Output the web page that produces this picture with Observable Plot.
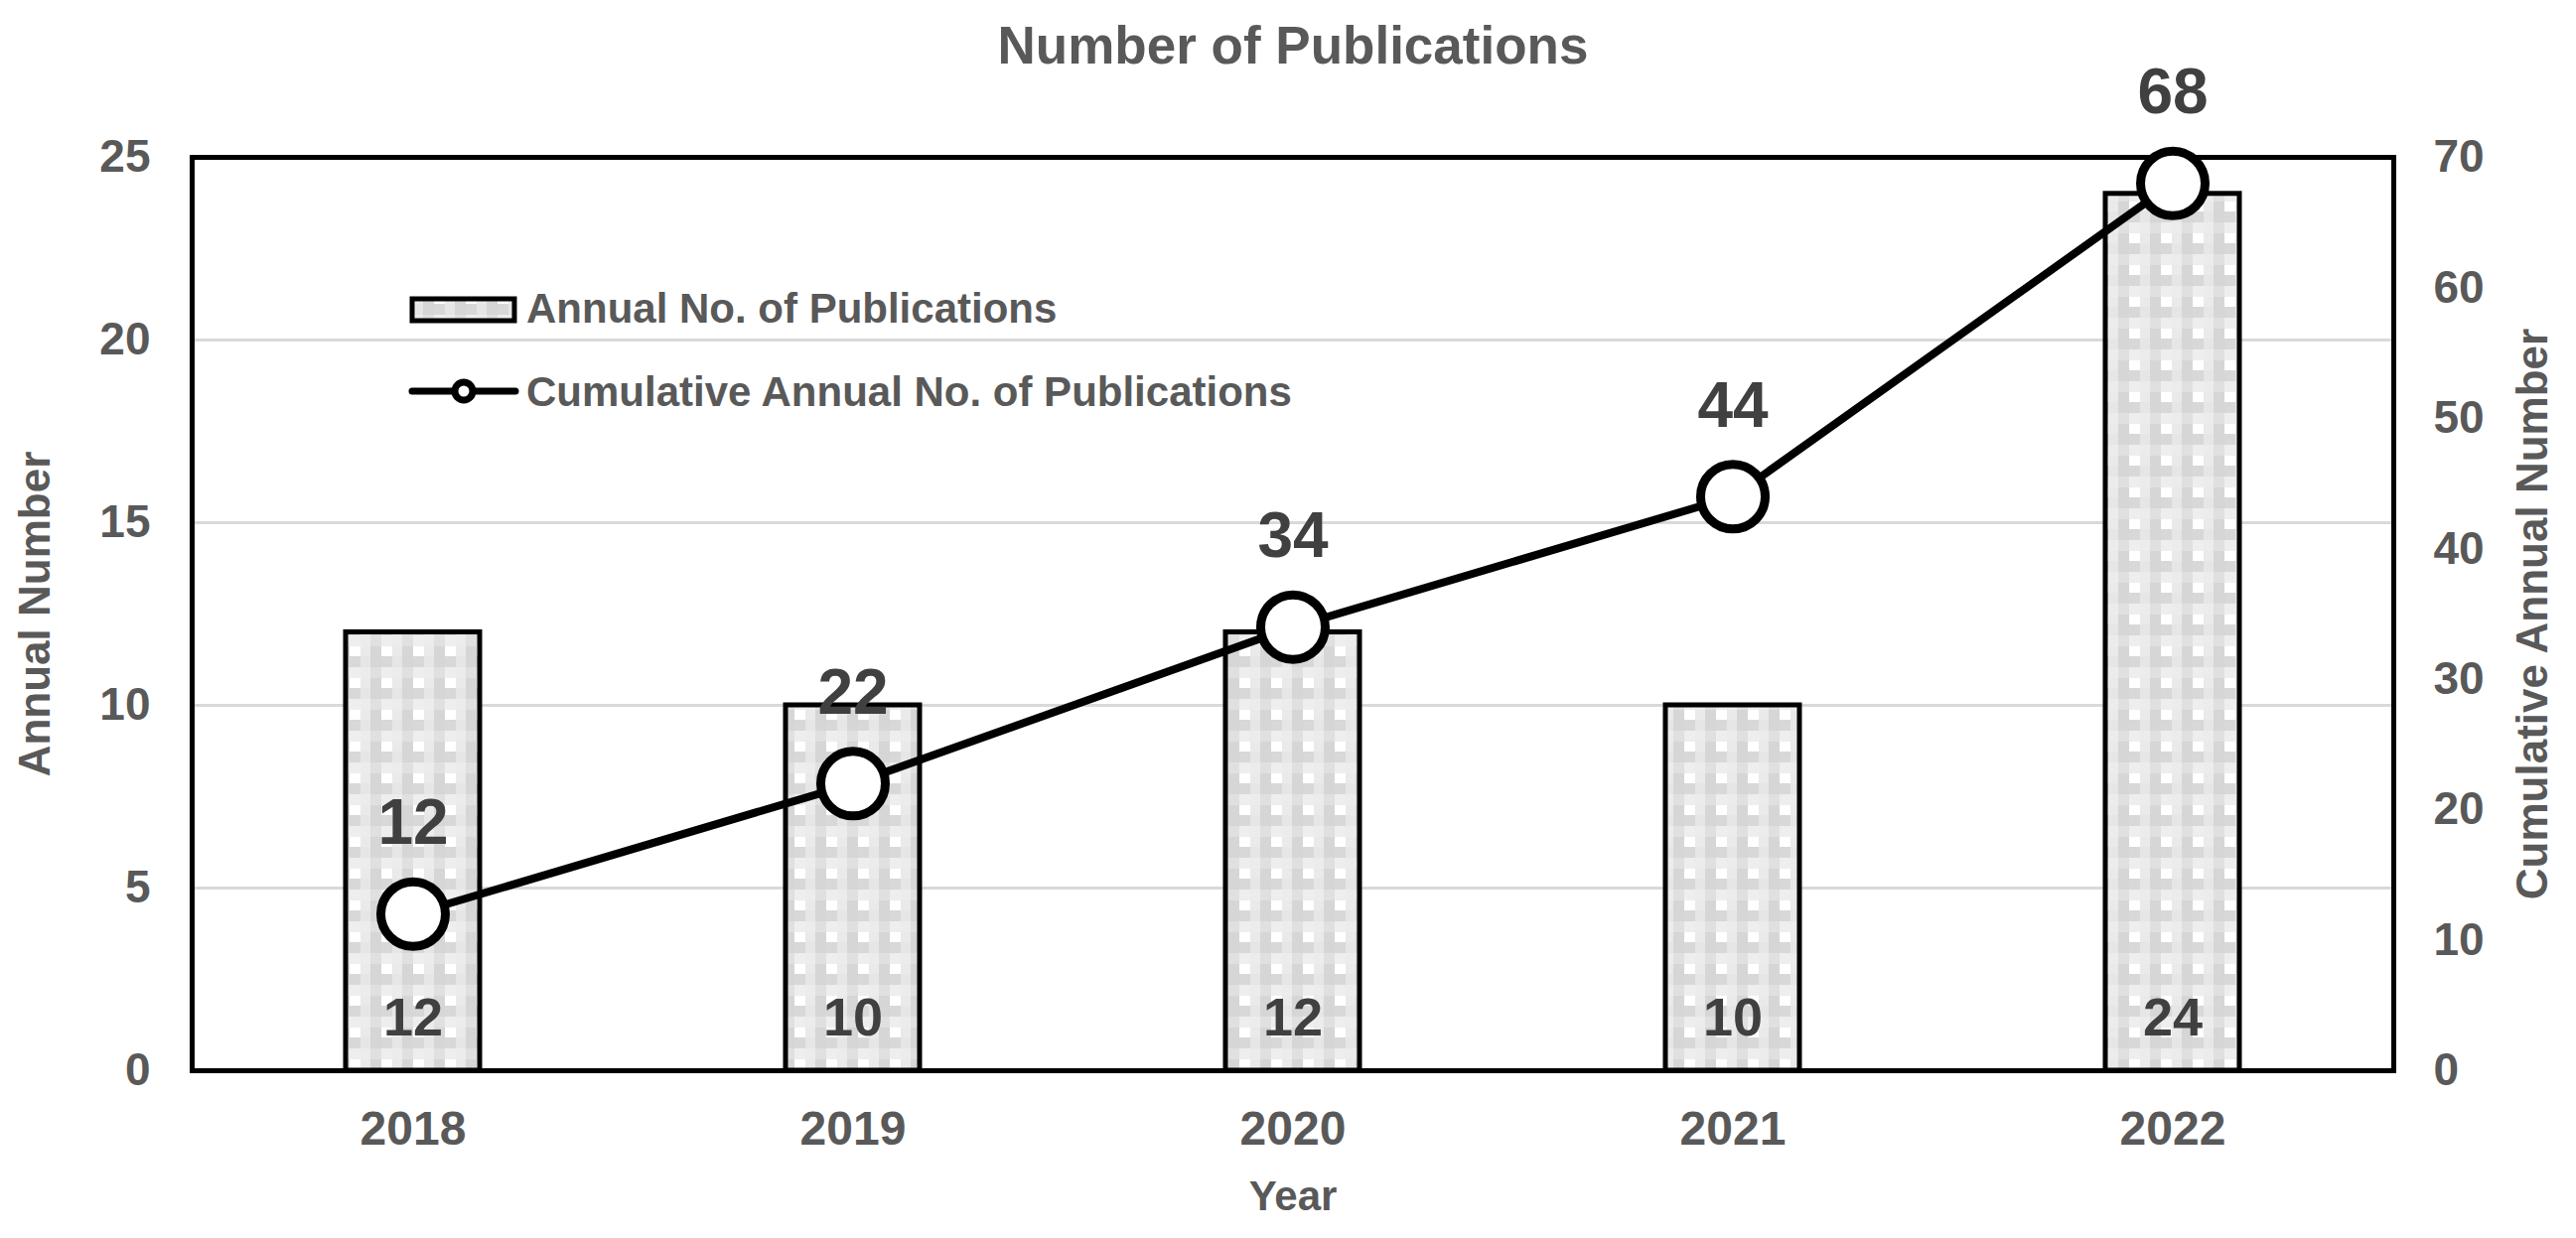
<!DOCTYPE html>
<html>
<head>
<meta charset="utf-8">
<script src="https://cdn.jsdelivr.net/npm/d3@7"></script>
<script src="https://cdn.jsdelivr.net/npm/@observablehq/plot@0.6"></script>
<style>
  html, body { margin: 0; padding: 0; background: #fff; }
  #wrap { position: relative; width: 2594px; height: 1247px; font-family: "Liberation Sans", Arial, sans-serif; overflow: hidden; }
  .leg-text { position: absolute; left: 530px; font-size: 42px; line-height: 42px; font-weight: bold; color: #595959; white-space: nowrap; }
  #legsw { position: absolute; left: 405px; top: 285px; }
</style>
</head>
<body>
<div id="wrap"></div>
<script>
// ---- data ----
const years = ["2018", "2019", "2020", "2021", "2022"];
const annual = [12, 10, 12, 10, 24];
const cumulative = [12, 22, 34, 44, 68];
const leftTicks = [0, 5, 10, 15, 20, 25];
const rightTicks = [0, 10, 20, 30, 40, 50, 60, 70];
const gridTicks = [5, 10, 15, 20];
const leftMax = 25, rightMax = 70;
const titleText = "Number of Publications";
const leftLabel = "Annual Number";
const rightLabel = "Cumulative Annual Number";
const xLabel = "Year";
const legendLabels = ["Annual No. of Publications", "Cumulative Annual No. of Publications"];

const data = years.map((y, i) => ({year: y, annual: annual[i], cum: cumulative[i]}));
const toLeft = v => v * leftMax / rightMax;

const textGray = "#595959";
const labelDark = "#404040";

const plot = Plot.plot({
  width: 2594,
  height: 1247,
  marginTop: 158,
  marginBottom: 169,
  marginLeft: 193,
  marginRight: 184,
  style: {fontFamily: '"Liberation Sans", Arial, sans-serif', fontSize: "46px", fontWeight: "bold", color: textGray, background: "white"},
  x: {type: "band", domain: years, paddingInner: 0.695, paddingOuter: 0.3475, align: 0.5},
  y: {domain: [0, leftMax]},
  marks: [
    Plot.gridY(gridTicks, {stroke: "#d9d9d9", strokeOpacity: 1, strokeWidth: 3}),
    Plot.barY(data, {x: "year", y: "annual", fill: "url(#checker)", stroke: "black", strokeWidth: 5}),
    Plot.frame({stroke: "black", strokeWidth: 5}),
    Plot.axisY(leftTicks, {anchor: "left", tickSize: 0, tickPadding: 42, label: null, fontSize: 46, fontWeight: "bold", fill: textGray}),
    Plot.axisY(rightTicks.map(toLeft), {anchor: "right", tickSize: 0, tickPadding: 40, label: null, tickFormat: d => String(Math.round(d * rightMax / leftMax)), fontSize: 46, fontWeight: "bold", fill: textGray}),
    Plot.axisX({tickSize: 0, tickPadding: 40, label: null, fontSize: 48, fontWeight: "bold", fill: textGray}),
    Plot.line(data, {x: "year", y: d => toLeft(d.cum), stroke: "black", strokeWidth: 8}),
    Plot.dot(data, {x: "year", y: d => toLeft(d.cum), r: 32.5, fill: "white", stroke: "black", strokeWidth: 9}),
    Plot.text(data, {x: "year", y: d => toLeft(d.cum), text: d => String(d.cum), dy: -91, fontSize: 64, fontWeight: "bold", fill: labelDark}),
    Plot.text(data, {x: "year", frameAnchor: "bottom", lineAnchor: "middle", text: d => String(d.annual), dy: -53, fontSize: 54, fontWeight: "bold", fill: labelDark}),
    Plot.text([titleText], {frameAnchor: "top", lineAnchor: "middle", textAnchor: "middle", text: d => d, dy: -111, fontSize: 53, fontWeight: "bold", fill: textGray}),
    Plot.text([leftLabel], {frameAnchor: "left", lineAnchor: "middle", textAnchor: "middle", text: d => d, dx: -158, rotate: -90, fontSize: 44, fontWeight: "bold", fill: textGray}),
    Plot.text([rightLabel], {frameAnchor: "right", lineAnchor: "middle", textAnchor: "middle", text: d => d, dx: 140, rotate: -90, fontSize: 44, fontWeight: "bold", fill: textGray}),
    Plot.text([xLabel], {frameAnchor: "bottom", lineAnchor: "middle", textAnchor: "middle", text: d => d, dy: 127, fontSize: 42, fontWeight: "bold", fill: textGray})
  ]
});

const patternDef = `
<pattern id="checker" patternUnits="userSpaceOnUse" width="32" height="32">
  <rect x="0" y="0" width="32" height="32" fill="#e6e6e6"/>
  <rect x="0" y="0" width="11" height="11" fill="#eeeeee"/>
  <rect x="11" y="0" width="10" height="11" fill="#ececec"/>
  <rect x="21" y="0" width="11" height="11" fill="#e0e0e0"/>
  <rect x="0" y="11" width="11" height="10" fill="#ffffff"/>
  <rect x="11" y="11" width="10" height="10" fill="#eaeaea"/>
  <rect x="21" y="11" width="11" height="10" fill="#d6d6d6"/>
  <rect x="0" y="21" width="11" height="11" fill="#d8d8d8"/>
  <rect x="11" y="21" width="10" height="11" fill="#e6e6e6"/>
  <rect x="21" y="21" width="11" height="11" fill="#d6d6d6"/>
</pattern>`;
d3.select(plot).insert("defs", ":first-child").html(patternDef);

const wrap = document.getElementById("wrap");
wrap.appendChild(plot);

// legend (inside plot area)
const sw = d3.select(wrap).append("svg").attr("id", "legsw").attr("width", 125).attr("height", 130);
sw.append("rect").attr("x", 10).attr("y", 16).attr("width", 103).attr("height", 22)
  .attr("fill", "url(#checker)").attr("stroke", "black").attr("stroke-width", 5);
sw.append("line").attr("x1", 10).attr("x2", 114).attr("y1", 109).attr("y2", 109)
  .attr("stroke", "black").attr("stroke-width", 7).attr("stroke-linecap", "round");
sw.append("circle").attr("cx", 62).attr("cy", 109).attr("r", 9)
  .attr("fill", "white").attr("stroke", "black").attr("stroke-width", 7);

const t1 = document.createElement("div");
t1.className = "leg-text"; t1.style.top = (311 - 21) + "px"; t1.textContent = legendLabels[0];
const t2 = document.createElement("div");
t2.className = "leg-text"; t2.style.top = (395 - 21) + "px"; t2.textContent = legendLabels[1];
wrap.appendChild(t1); wrap.appendChild(t2);
</script>
</body>
</html>
